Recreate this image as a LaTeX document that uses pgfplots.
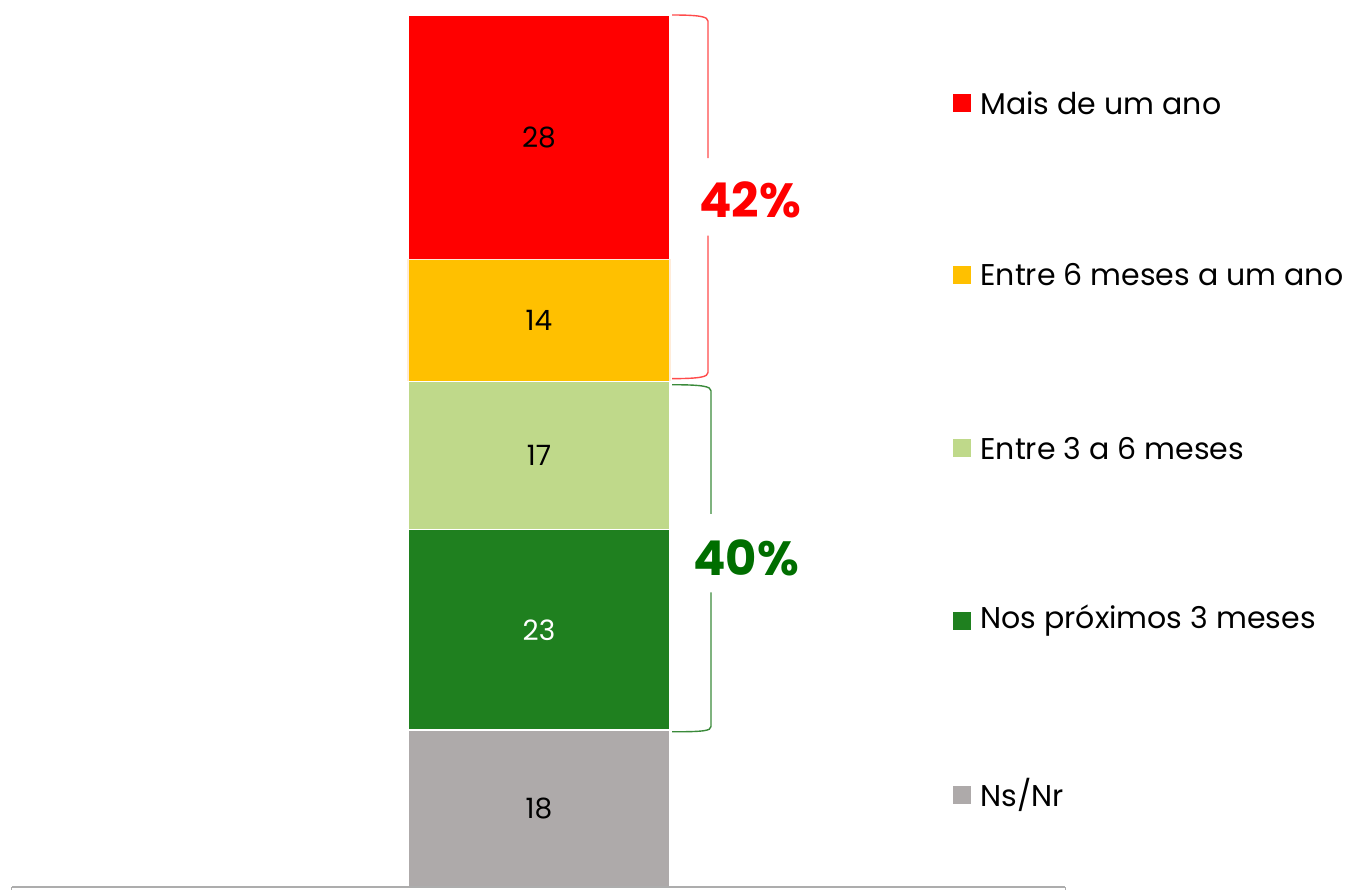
\documentclass[border=0pt]{standalone}
\usepackage{pgfplots}
\pgfplotsset{compat=1.18}
\usepackage{fontspec}
\setmainfont{Poppins}

\definecolor{cRed}{HTML}{FF0000}
\definecolor{cYellow}{HTML}{FFC000}
\definecolor{cLightGreen}{HTML}{BFD98A}
\definecolor{cDarkGreen}{HTML}{1F801F}
\definecolor{cGray}{HTML}{AEAAAA}
\definecolor{braceRed}{HTML}{FF4B4B}
\definecolor{braceGreen}{HTML}{3A8A3A}
\definecolor{pctGreen}{HTML}{006E00}

% legend entry: colour, y bottom of square, y top of square, y centre, text
\newcommand{\lgd}[5]{%
  \fill[#1] (axis cs:953,#2) rectangle (axis cs:971,#3);
  \node[anchor=west, inner sep=0pt, font=\fontsize{15}{17}\selectfont] at (axis cs:980,#4) {#5};
}

\begin{document}
\begin{tikzpicture}
\path[use as bounding box] (0,0) rectangle (676.5pt,445.5pt);
\begin{axis}[
  at={(6pt,2pt)}, anchor=south west,
  scale only axis,
  width=526.5pt, height=436pt,
  xmin=12, xmax=1065, ymin=0, ymax=100,
  enlargelimits=false,
  axis x line=bottom,
  hide y axis,
  axis line style={-, color=black!32, line width=0.9pt},
  xtick=\empty,
  axis on top,
  clip=false,
  ybar stacked,
  bar width=262,
  every axis plot/.append style={draw=white, line width=0.6pt},
  nodes near coords,
  /pgf/number format/assume math mode=true,
  every node near coord/.append style={font=\fontsize{14}{16}\selectfont, anchor=center, text=black},
]
% bottom to top
\addplot[fill=cGray] coordinates {(539,18)};
\addplot[fill=cDarkGreen, every node near coord/.append style={text=white}] coordinates {(539,23)};
\addplot[fill=cLightGreen] coordinates {(539,17)};
\addplot[fill=cYellow, draw=orange!15] coordinates {(539,14)};
\addplot[fill=cRed] coordinates {(539,28)};

% small end ticks of the baseline
\draw[color=black!32, line width=0.5pt] (axis cs:12,0) -- ++(0pt,-1.5pt);
\draw[color=black!32, line width=0.5pt] (axis cs:1065,0) -- ++(0pt,-1.5pt);

% red bracket (42%)
\draw[braceRed, line width=0.7pt]
  (axis cs:672,100) .. controls (axis cs:700,100) and (axis cs:708,99.8) .. (axis cs:708,99.3)
  -- (axis cs:708,83.6);
\draw[braceRed, line width=0.7pt]
  (axis cs:708,74.7) -- (axis cs:708,59)
  .. controls (axis cs:708,58.5) and (axis cs:700,58.3) .. (axis cs:672,58.3);
\node[text=cRed, font=\bfseries\fontsize{24}{26}\selectfont] at (axis cs:750,78.8) {42\%};

% green bracket (40%)
\draw[braceGreen, line width=0.7pt]
  (axis cs:672,57.6) .. controls (axis cs:703,57.6) and (axis cs:711,57.4) .. (axis cs:711,56.9)
  -- (axis cs:711,42.8);
\draw[braceGreen, line width=0.7pt]
  (axis cs:711,33.8) -- (axis cs:711,18.4)
  .. controls (axis cs:711,17.9) and (axis cs:703,17.8) .. (axis cs:672,17.8);
\node[text=pctGreen, font=\bfseries\fontsize{24}{26}\selectfont] at (axis cs:746,37.8) {40\%};

% legend
\lgd{cRed}{88.87}{90.93}{89.9}{Mais de um ano}
\lgd{cYellow}{69.17}{71.23}{70.2}{Entre 6 meses a um ano}
\lgd{cLightGreen}{49.27}{51.33}{50.3}{Entre 3 a 6 meses}
\lgd{cDarkGreen}{29.47}{31.53}{30.5}{Nos próximos 3 meses}
\lgd{cGray}{9.52}{11.58}{10.55}{Ns/Nr}
\end{axis}
\end{tikzpicture}
\end{document}
